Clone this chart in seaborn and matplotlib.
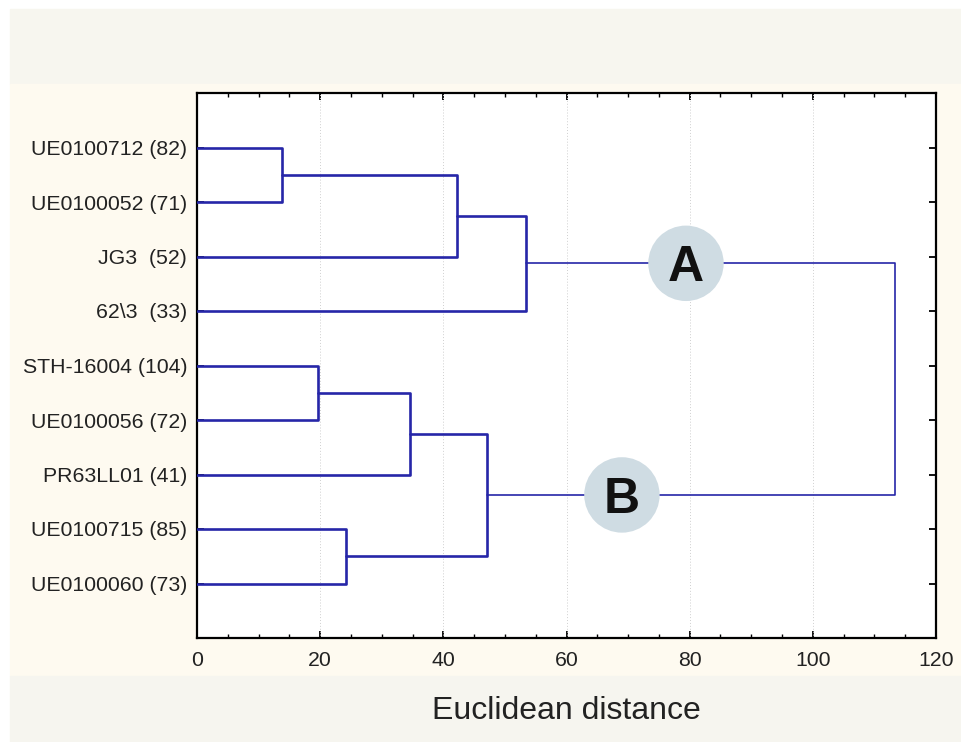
import matplotlib
matplotlib.use("Agg")
import matplotlib.pyplot as plt
from matplotlib.patches import Rectangle
from matplotlib.ticker import MultipleLocator, FixedLocator
import numpy as np
import pandas as pd
import seaborn as sns

# ---- data ----
leaves = ["UE0100712 (82)", "UE0100052 (71)", "JG3  (52)", "62\\3  (33)",
          "STH-16004 (104)", "UE0100056 (72)", "PR63LL01 (41)",
          "UE0100715 (85)", "UE0100060 (73)"]
merge_left = [0, 9, 10, 4, 12, 7, 13, 11]
merge_right = [1, 2, 3, 5, 6, 8, 14, 15]
merge_height = [13.8, 42.2, 53.5, 19.6, 34.6, 24.2, 47.1, 113.3]
cluster_labels = ["A", "B"]
cluster_nodes = [11, 15]
cluster_x = [79.4, 69.0]
xticks = [0, 20, 40, 60, 80, 100, 120]

sns.set_theme(style="white")
plt.rcParams['font.family'] = ['Liberation Sans', 'DejaVu Sans']

n = len(leaves)
ypos = {i: i + 1.0 for i in range(n)}
xpos = {i: 0.0 for i in range(n)}
rows = []
seg = 0
for k, (a, b, h) in enumerate(zip(merge_left, merge_right, merge_height)):
    node = n + k
    ya, yb = ypos[a], ypos[b]
    ypos[node] = (ya + yb) / 2
    xpos[node] = h
    top = (k == len(merge_height) - 1)
    for (x, y) in [(xpos[a], ya), (h, ya), (h, yb), (xpos[b], yb)]:
        rows.append(dict(x=x, y=y, seg=seg, top=top))
    seg += 1
df = pd.DataFrame(rows)

fig = plt.figure(figsize=(9.62, 7.42), dpi=100)
fig.patch.set_facecolor("white")
W, H = 962, 742
fig.patches.append(Rectangle((10 / W, 1 - 84 / H), 1 - 10 / W, 75 / H,
                             transform=fig.transFigure, color="#f7f6ef", zorder=-10))
fig.patches.append(Rectangle((10 / W, 1 - 676 / H), 1 - 10 / W, (676 - 84) / H,
                             transform=fig.transFigure, color="#fefaf0", zorder=-10))
fig.patches.append(Rectangle((10 / W, 0), 1 - 10 / W, 1 - 676 / H,
                             transform=fig.transFigure, color="#f6f5ef", zorder=-10))

ax = fig.add_axes([197 / W, 1 - 638 / H, (936 - 197) / W, (638 - 93) / H])
ax.set_facecolor("white")

blue = "#2626a8"
sns.lineplot(data=df[~df.top], x="x", y="y", units="seg", estimator=None, sort=False,
             color=blue, linewidth=1.9, ax=ax, zorder=3)
sns.lineplot(data=df[df.top], x="x", y="y", units="seg", estimator=None, sort=False,
             color=blue, linewidth=1.2, ax=ax, zorder=3)

for lab, node, cx in zip(cluster_labels, cluster_nodes, cluster_x):
    cy = ypos[node]
    ax.scatter([cx], [cy], s=2950, color="#cfdce3", edgecolor="none", zorder=4)
    ax.text(cx, cy, lab, ha="center", va="center_baseline", fontsize=36,
            fontweight="bold", color="#111111", zorder=5)

ax.set_xlim(0, 120)
ax.set_ylim(10, 0)
ax.xaxis.set_major_locator(FixedLocator(xticks))
ax.xaxis.set_minor_locator(MultipleLocator(5))
ax.set_yticks([ypos[i] for i in range(n)])
ax.set_yticklabels(leaves)
ax.set_xticklabels([str(t) for t in xticks])
ax.tick_params(axis="both", which="major", direction="in", length=5, width=1.3,
               colors="black", labelcolor="#222222", labelsize=15.3,
               top=True, right=True, left=True, bottom=True)
ax.tick_params(axis="x", which="minor", direction="in", length=3, width=1,
               top=True, bottom=True, colors="black")
ax.tick_params(axis="y", which="major", pad=7)
ax.tick_params(axis="x", which="major", pad=9)
ax.set_xlabel("")
ax.set_ylabel("")
for xv in xticks[1:-1]:
    ax.axvline(xv, color="#cfcfcf", linestyle=(0, (1, 2)), linewidth=0.7, zorder=1)
for sp in ax.spines.values():
    sp.set_color("black")
    sp.set_linewidth(1.6)
    sp.set_visible(True)
leg = ax.get_legend()
if leg:
    leg.remove()

fig.text(566 / W, 1 - 711 / H, "Euclidean distance", ha="center", va="center",
         fontsize=23, color="#222222")

fig.savefig("out.png", dpi=100, facecolor=fig.get_facecolor())
